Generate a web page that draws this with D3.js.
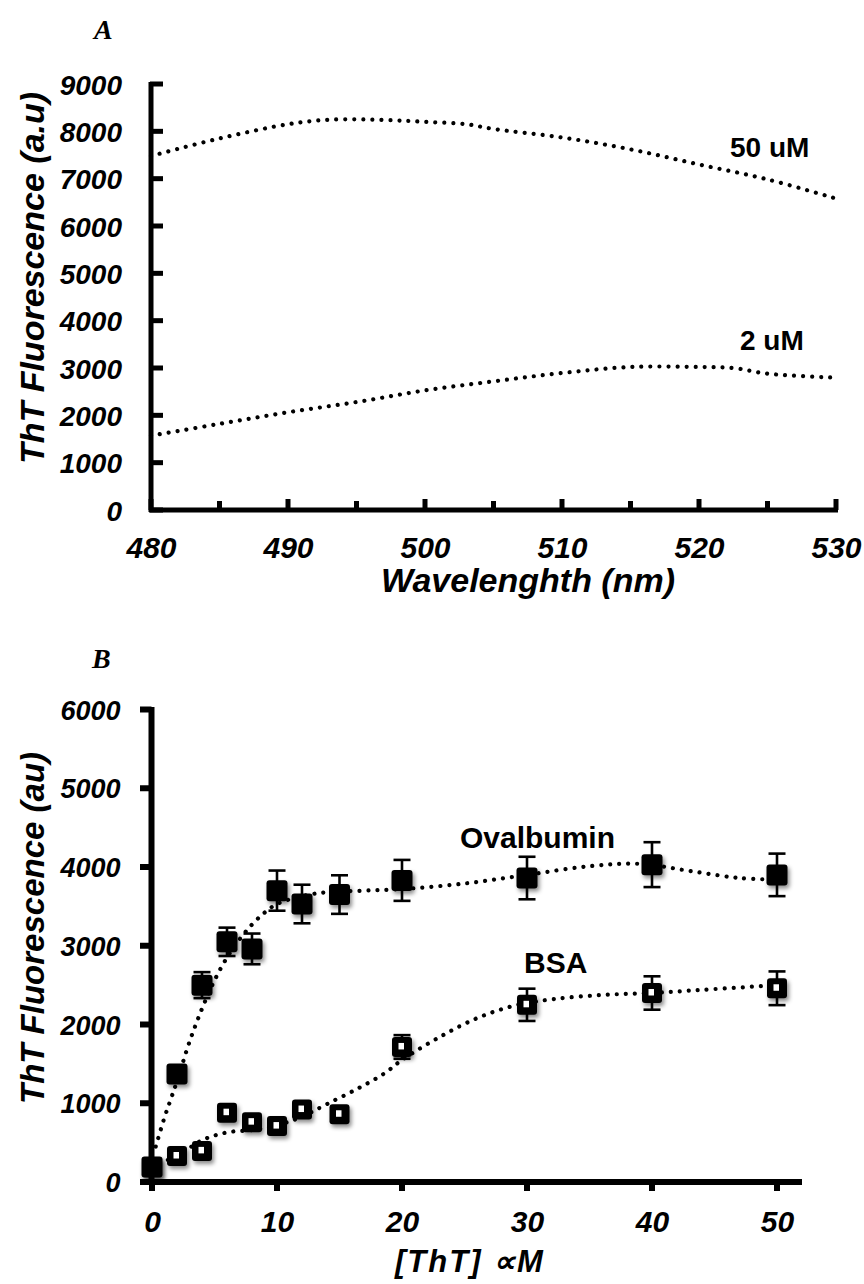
<!DOCTYPE html>
<html>
<head>
<meta charset="utf-8">
<script src="https://cdn.jsdelivr.net/npm/d3@7"></script>
<style>
  html, body { margin: 0; padding: 0; background: #ffffff; }
  svg { display: block; }
  .lbl { font-family: "Liberation Sans", Arial, sans-serif; font-weight: bold; font-style: italic; fill: #000; }
  .ann { font-family: "Liberation Sans", Arial, sans-serif; font-weight: bold; fill: #000; }
  .panel { font-family: "Liberation Serif", "Times New Roman", serif; font-weight: bold; font-style: italic; fill: #000; }
</style>
</head>
<body>
<script>
// ---------- Panel A data ----------
const wavelength50 = [480, 485, 490, 493, 497, 500, 503, 505, 510, 515, 520, 525, 530];
const fluor50uM    = [7480, 7850, 8150, 8245, 8240, 8200, 8150, 8050, 7870, 7620, 7300, 6985, 6580];
const wavelength2  = [480, 485, 490, 495, 500, 505, 510, 515, 520, 522.5, 525, 530];
const fluor2uM     = [1570, 1820, 2065, 2280, 2527, 2718, 2894, 3021, 3021, 3000, 2880, 2796];
const aYTicks = [0, 1000, 2000, 3000, 4000, 5000, 6000, 7000, 8000, 9000];
const aXTicks = [480, 490, 500, 510, 520, 530];
const aXMinorTicks = [485, 495, 505, 515, 525];

// ---------- Panel B data ----------
const concentration = [0, 2, 4, 6, 8, 10, 12, 15, 20, 30, 40, 50];
const ovalbumin     = [190, 1370, 2500, 3050, 2960, 3700, 3530, 3650, 3830, 3860, 4030, 3900];
const ovalbuminErr  = [30, 100, 165, 180, 195, 255, 245, 245, 260, 270, 285, 270];
const bsa           = [190, 330, 395, 880, 760, 710, 920, 860, 1715, 2250, 2400, 2460];
const bsaErr        = [30, 60, 60, 80, 80, 80, 80, 80, 150, 205, 212, 214];
const ovalTrendX = [0.3, 1, 1.5, 2, 3, 4, 5, 6, 7, 8, 9, 10, 12, 14, 17, 20, 25, 30, 35, 39, 43, 47, 50];
const ovalTrendY = [450, 820, 1050, 1280, 1780, 2200, 2560, 2850, 3080, 3270, 3420, 3530, 3630, 3680, 3700, 3720, 3790, 3900, 4010, 4040, 3950, 3860, 3840];
const bsaTrendX = [0.6, 2, 4, 6, 8, 10, 12, 14, 16.5, 18.6, 20, 23, 26, 29, 32, 36, 40, 44, 50];
const bsaTrendY = [240, 330, 530, 630, 660, 720, 830, 990, 1190, 1380, 1550, 1840, 2080, 2240, 2320, 2375, 2400, 2440, 2500];
const bYTicks = [0, 1000, 2000, 3000, 4000, 5000, 6000];
const bXTicks = [0, 10, 20, 30, 40, 50];

const W = 864, H = 1284;
const svg = d3.select("body").append("svg").attr("width", W).attr("height", H);
svg.append("rect").attr("width", W).attr("height", H).attr("fill", "#fff");

const defs = svg.append("defs");
const f = defs.append("filter").attr("id", "shadow").attr("x", "-50%").attr("y", "-50%").attr("width", "200%").attr("height", "200%");
f.append("feDropShadow").attr("dx", 2).attr("dy", 3).attr("stdDeviation", 2.2).attr("flood-color", "#000").attr("flood-opacity", 0.45);

function dotted(g, pts, x, y) {
  const line = d3.line().x(d => x(d[0])).y(d => y(d[1])).curve(d3.curveCatmullRom.alpha(0.5));
  g.append("path").attr("d", line(pts)).attr("fill", "none").attr("stroke", "#000")
    .attr("stroke-width", 4.2).attr("stroke-linecap", "round").attr("stroke-dasharray", "0.01 9");
}

// =============== Panel A ===============
const ax = d3.scaleLinear().domain([480, 530]).range([151, 836]);
const ay = d3.scaleLinear().domain([0, 9000]).range([510, 84]);
const gA = svg.append("g");

svg.append("text").attr("class", "panel").attr("x", 94).attr("y", 39).attr("font-size", 28).text("A");

gA.append("rect").attr("x", 148.5).attr("y", 82).attr("width", 5).attr("height", 430).attr("fill", "#000");
gA.append("rect").attr("x", 149).attr("y", 507.5).attr("width", 689).attr("height", 5).attr("fill", "#000");

const aYAxis = d3.axisLeft(ay).tickValues(aYTicks).tickSize(0).tickPadding(29).tickFormat(d3.format("d"));
const gAy = gA.append("g").attr("transform", "translate(151,0)").call(aYAxis);
gAy.select(".domain").remove();
gAy.selectAll(".tick text").attr("class", "lbl").attr("font-size", 28).attr("dy", "0.36em");
gA.append("g").selectAll("rect").data(aYTicks).join("rect")
  .attr("x", 150).attr("y", d => ay(d) - 2.5).attr("width", 13).attr("height", 5).attr("fill", "#000");

const aXAxis = d3.axisBottom(ax).tickValues(aXTicks).tickSize(0).tickPadding(27).tickFormat(d3.format("d"));
const gAx = gA.append("g").attr("transform", "translate(0,510)").call(aXAxis);
gAx.select(".domain").remove();
gAx.selectAll(".tick text").attr("class", "lbl").attr("font-size", 30).attr("dy", "0.71em");
gA.append("g").selectAll("rect").data(aXTicks).join("rect")
  .attr("x", d => ax(d) - 2.5).attr("y", 499).attr("width", 5).attr("height", 11).attr("fill", "#000");
gA.append("g").selectAll("rect").data(aXMinorTicks).join("rect")
  .attr("x", d => ax(d) - 2.5).attr("y", 501).attr("width", 5).attr("height", 9).attr("fill", "#000");

dotted(gA, wavelength50.map((d, i) => [d, fluor50uM[i]]), ax, ay);
dotted(gA, wavelength2.map((d, i) => [d, fluor2uM[i]]), ax, ay);

gA.append("text").attr("class", "ann").attr("x", 730).attr("y", 157).attr("font-size", 28).text("50 uM");
gA.append("text").attr("class", "ann").attr("x", 740).attr("y", 350).attr("font-size", 28).text("2 uM");

gA.append("text").attr("class", "lbl").attr("font-size", 34).attr("text-anchor", "middle")
  .attr("transform", "translate(44,278) rotate(-90)").text("ThT Fluorescence (a.u)");
gA.append("text").attr("class", "lbl").attr("font-size", 34).attr("text-anchor", "middle")
  .attr("x", 528).attr("y", 592).text("Wavelenghth (nm)");

// =============== Panel B ===============
const bx = d3.scaleLinear().domain([0, 50]).range([152, 777]);
const by = d3.scaleLinear().domain([0, 6000]).range([1182, 709.5]);
const gB = svg.append("g");

svg.append("text").attr("class", "panel").attr("x", 92).attr("y", 668).attr("font-size", 28).text("B");

const bYAxis = d3.axisLeft(by).tickValues(bYTicks).tickSize(0).tickPadding(31).tickFormat(d3.format("d"));
const gBy = gB.append("g").attr("transform", "translate(151.5,0)").call(bYAxis);
gBy.select(".domain").remove();
gBy.selectAll(".tick text").attr("class", "lbl").attr("font-size", 27).attr("dy", "0.36em");
gB.append("g").selectAll("line").data(bYTicks).join("line")
  .attr("x1", 140).attr("x2", 151.5).attr("y1", d => by(d)).attr("y2", d => by(d))
  .attr("stroke", "#000").attr("stroke-width", 6);
gB.append("line").attr("x1", 151.5).attr("x2", 151.5).attr("y1", 707).attr("y2", 1185).attr("stroke", "#000").attr("stroke-width", 6);

const bXAxis = d3.axisBottom(bx).tickValues(bXTicks).tickSize(0).tickPadding(29).tickFormat(d3.format("d"));
const gBx = gB.append("g").attr("transform", "translate(0,1182)").call(bXAxis);
gBx.select(".domain").remove();
gBx.selectAll(".tick text").attr("class", "lbl").attr("font-size", 30).attr("dy", "0.71em");
gB.append("g").selectAll("line").data(bXTicks).join("line")
  .attr("x1", d => bx(d)).attr("x2", d => bx(d)).attr("y1", 1182).attr("y2", 1191)
  .attr("stroke", "#000").attr("stroke-width", 6);
gB.append("line").attr("x1", 141).attr("x2", 802).attr("y1", 1182).attr("y2", 1182).attr("stroke", "#000").attr("stroke-width", 6);

dotted(gB, bsaTrendX.map((d, i) => [d, bsaTrendY[i]]), bx, by);
dotted(gB, ovalTrendX.map((d, i) => [d, ovalTrendY[i]]), bx, by);

function errorBars(vals, errs) {
  const g = gB.append("g").attr("stroke", "#000").attr("stroke-width", 2.6).attr("fill", "none");
  concentration.forEach((c, i) => {
    const cx = bx(c), y1 = by(vals[i] - errs[i]), y2 = by(vals[i] + errs[i]);
    g.append("line").attr("x1", cx).attr("x2", cx).attr("y1", y1).attr("y2", y2);
    g.append("line").attr("x1", cx - 8.5).attr("x2", cx + 8.5).attr("y1", y1).attr("y2", y1);
    g.append("line").attr("x1", cx - 8.5).attr("x2", cx + 8.5).attr("y1", y2).attr("y2", y2);
  });
}
errorBars(bsa, bsaErr);
errorBars(ovalbumin, ovalbuminErr);

const mB = gB.append("g").attr("filter", "url(#shadow)");
concentration.forEach((c, i) => {
  const cx = bx(c), cy = by(bsa[i]);
  mB.append("rect").attr("x", cx - 10).attr("y", cy - 10).attr("width", 20).attr("height", 20).attr("rx", 3).attr("fill", "#000");
  mB.append("rect").attr("x", cx - 3.5).attr("y", cy - 4).attr("width", 5.5).attr("height", 6.5).attr("fill", "#fff");
});
const mO = gB.append("g").attr("filter", "url(#shadow)");
concentration.forEach((c, i) => {
  const cx = bx(c), cy = by(ovalbumin[i]);
  mO.append("rect").attr("x", cx - 10.5).attr("y", cy - 10.5).attr("width", 21).attr("height", 21).attr("rx", 3).attr("fill", "#000");
});

gB.append("text").attr("class", "ann").attr("x", 460).attr("y", 848).attr("font-size", 30).text("Ovalbumin");
gB.append("text").attr("class", "ann").attr("x", 524).attr("y", 973).attr("font-size", 30).text("BSA");

gB.append("text").attr("class", "lbl").attr("font-size", 33).attr("text-anchor", "middle")
  .attr("transform", "translate(44,928) rotate(-90)").text("ThT Fluorescence (au)");
gB.append("text").attr("class", "lbl").attr("font-size", 31).attr("letter-spacing", 2).attr("text-anchor", "middle")
  .attr("x", 470).attr("y", 1272).text("[ThT] \u221DM");
</script>
</body>
</html>
